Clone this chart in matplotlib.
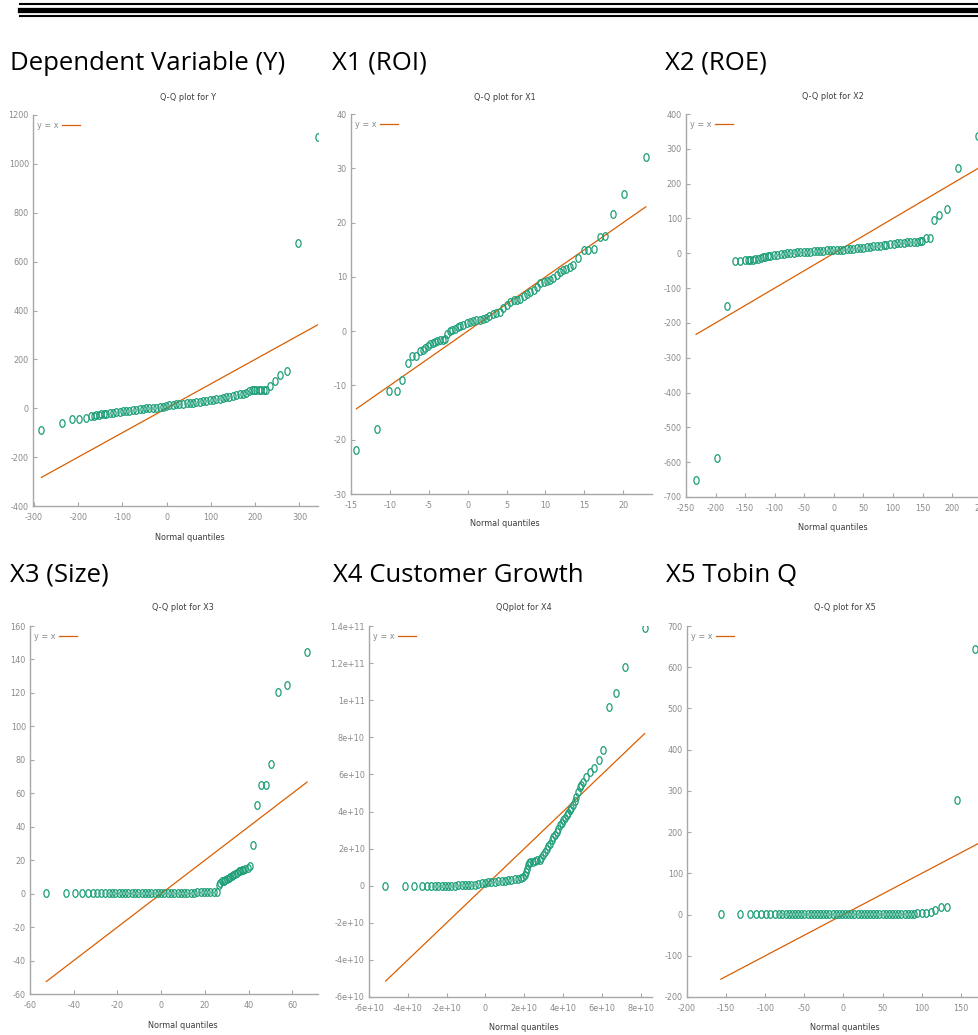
import numpy as np
import matplotlib
matplotlib.use("Agg")
import matplotlib.pyplot as plt
from matplotlib import font_manager as fm
from matplotlib.path import Path
from matplotlib.lines import Line2D

W, H = 979, 1035
GREEN = "#1b9e77"
ORANGE = "#d95f02"
AXIS_GRAY = "#a8a8a8"
TICK_GRAY = "#8a8a8a"
TEXT_GRAY = "#3c3c3c"

plt.rcParams['font.family'] = ['DejaVu Sans']
plt.rcParams['axes.unicode_minus'] = False

HEADINGS = ["Dependent Variable (Y)", "X1 (ROI)", "X2 (ROE)",
            "X3 (Size)", "X4 Customer Growth", "X5 Tobin Q"]
PLOT_TITLES = ["Q-Q plot for Y", "Q-Q plot for X1", "Q-Q plot for X2",
               "Q-Q plot for X3", "QQplot for X4", "Q-Q plot for X5"]

# (normal quantile, sorted value)
Y_PTS = [(-283, -90), (-237, -59), (-213, -45), (-197, -42), (-183, -38), (-170, -33),
         (-164, -31), (-159, -29), (-153, -27), (-148, -25), (-142, -23), (-136, -22),
         (-129, -20), (-121, -18), (-114, -16), (-106, -15), (-99, -13), (-91, -12),
         (-84, -10), (-76, -8), (-69, -6), (-61, -5), (-54, -3), (-46, -1), (-39, 0),
         (-31, 1), (-24, 3), (-16, 5), (-9, 7), (-1, 9), (6, 12), (14, 14), (21, 16),
         (29, 18), (37, 19), (45, 20), (52, 22), (60, 23), (67, 25), (75, 26), (82, 28),
         (90, 30), (97, 32), (105, 34), (112, 36), (120, 38), (127, 41), (135, 44),
         (142, 47), (150, 50), (157, 53), (165, 57), (172, 60), (180, 64), (186, 70),
         (192, 74), (197, 74), (203, 74), (208, 75), (214, 74), (219, 75), (224, 76),
         (233, 90), (244, 112), (257, 135), (273, 151), (297, 678), (342, 1110)]

X1_PTS = [(-14.3, -21.9), (-11.6, -18.1), (-10.1, -11.0), (-9.1, -11.0), (-8.4, -9.0),
          (-7.7, -5.9), (-7.1, -4.6), (-6.6, -4.6), (-6.1, -3.6), (-5.8, -3.4), (-5.5, -3.1),
          (-5.1, -2.7), (-4.8, -2.3), (-4.5, -2.2), (-4.2, -2.0), (-3.9, -1.9), (-3.6, -1.7),
          (-3.2, -1.6), (-2.9, -1.4), (-2.6, -0.6), (-2.3, 0.1), (-2.0, 0.2), (-1.6, 0.4),
          (-1.3, 0.7), (-1.0, 1.0), (-0.6, 1.2), (-0.1, 1.5), (0.3, 1.7), (0.7, 1.9),
          (1.1, 2.0), (1.6, 2.1), (2.0, 2.3), (2.4, 2.5), (2.8, 2.8), (3.3, 3.2), (3.7, 3.3),
          (4.2, 3.5), (4.6, 4.2), (5.0, 4.8), (5.4, 5.3), (5.9, 5.7), (6.3, 5.8), (6.7, 6.0),
          (7.2, 6.4), (7.6, 6.9), (8.0, 7.2), (8.5, 7.5), (8.9, 8.2), (9.3, 8.8), (9.8, 9.0),
          (10.2, 9.2), (10.6, 9.4), (11.0, 9.7), (11.5, 10.3), (11.9, 10.9), (12.3, 11.2),
          (12.7, 11.5), (13.2, 11.8), (13.6, 12.2), (14.2, 13.4), (14.9, 14.9), (15.5, 14.9),
          (16.2, 15.2), (17.0, 17.4), (17.7, 17.6), (18.7, 21.5), (20.1, 25.3), (22.9, 32.0)]

X2_PTS = [(-233, -652), (-198, -588), (-180, -151), (-167, -21), (-158, -21), (-150, -20),
          (-145, -19), (-141, -19), (-137, -18), (-133, -17), (-129, -16), (-124, -14),
          (-120, -12), (-116, -10), (-112, -9), (-108, -7), (-102, -6), (-96, -4), (-90, -3),
          (-85, -1), (-79, 0), (-74, 1), (-68, 2), (-62, 3), (-57, 4), (-51, 4), (-45, 5),
          (-40, 5), (-34, 6), (-29, 6), (-23, 7), (-18, 7), (-12, 8), (-6, 8), (-1, 9),
          (5, 9), (11, 10), (16, 10), (22, 11), (28, 12), (33, 13), (39, 14), (45, 15),
          (50, 16), (56, 17), (61, 18), (67, 20), (73, 21), (78, 22), (84, 23), (89, 25),
          (95, 26), (101, 28), (106, 29), (112, 30), (118, 30), (123, 31), (129, 32),
          (135, 33), (140, 33), (145, 35), (149, 36), (156, 45), (162, 45), (169, 95),
          (178, 109), (192, 128), (210, 245), (244, 337)]

X3_PTS = [(-52.5, 0.1), (-43.7, 0.1), (-39.2, 0.1), (-36.1, 0.1), (-33.5, 0.1), (-31.3, 0.2),
          (-29.3, 0.2), (-27.5, 0.2), (-25.5, 0.2), (-24.0, 0.2), (-22.5, 0.2), (-21.0, 0.2),
          (-19.5, 0.3), (-18.0, 0.3), (-16.5, 0.3), (-15.0, 0.3), (-13.5, 0.3), (-12.0, 0.3),
          (-10.5, 0.3), (-9.0, 0.4), (-7.5, 0.4), (-6.0, 0.4), (-4.5, 0.4), (-3.0, 0.4),
          (-1.5, 0.4), (0.0, 0.5), (1.5, 0.5), (3.0, 0.5), (4.5, 0.5), (6.0, 0.5), (7.5, 0.5),
          (9.0, 0.6), (10.5, 0.6), (12.0, 0.6), (13.5, 0.6), (15.0, 0.6), (16.5, 0.7),
          (18.0, 0.7), (19.5, 0.7), (21.0, 0.7), (22.5, 0.8), (24.0, 0.8), (25.5, 0.9),
          (26.2, 5.3), (27.0, 6.5), (27.8, 7.3), (28.5, 7.8), (29.3, 8.3), (30.0, 8.8),
          (30.8, 9.3), (31.5, 9.8), (32.3, 10.3), (33.0, 11.0), (33.8, 11.9), (34.6, 12.6),
          (35.4, 13.3), (36.2, 13.6), (36.9, 13.9), (37.6, 14.3), (38.4, 14.7), (39.5, 15.3),
          (40.7, 16.3), (42.2, 28.8), (43.7, 52.7), (45.7, 65.0), (47.8, 65.0), (50.3, 77.4),
          (53.3, 120.6), (57.7, 124.6), (66.7, 144.6)]

X4_PTS = [(-5.16e10, 0.0), (-4.16e10, 0.0), (-3.66e10, 0.0), (-3.28e10, 0.0), (-3.03e10, 0.0),
          (-2.83e10, 0.0), (-2.60e10, 0.0), (-2.42e10, 0.0), (-2.25e10, 0.0), (-2.09e10, 0.0),
          (-1.92e10, 0.0), (-1.75e10, 0.01e10), (-1.58e10, 0.01e10), (-1.40e10, 0.02e10),
          (-1.23e10, 0.02e10), (-1.06e10, 0.03e10), (-0.89e10, 0.04e10), (-0.72e10, 0.05e10),
          (-0.55e10, 0.06e10), (-0.37e10, 0.08e10), (-0.20e10, 0.12e10), (-0.03e10, 0.15e10),
          (0.14e10, 0.18e10), (0.31e10, 0.20e10), (0.48e10, 0.22e10), (0.66e10, 0.24e10),
          (0.83e10, 0.26e10), (1.00e10, 0.28e10), (1.17e10, 0.30e10), (1.34e10, 0.31e10),
          (1.51e10, 0.34e10), (1.69e10, 0.37e10), (1.82e10, 0.42e10), (1.94e10, 0.47e10),
          (2.02e10, 0.60e10), (2.08e10, 0.74e10), (2.14e10, 0.90e10), (2.20e10, 1.10e10),
          (2.26e10, 1.20e10), (2.32e10, 1.28e10), (2.44e10, 1.30e10), (2.55e10, 1.32e10),
          (2.68e10, 1.37e10), (2.80e10, 1.41e10), (2.88e10, 1.52e10), (2.97e10, 1.65e10),
          (3.06e10, 1.82e10), (3.15e10, 2.00e10), (3.24e10, 2.13e10), (3.32e10, 2.27e10),
          (3.41e10, 2.45e10), (3.49e10, 2.63e10), (3.58e10, 2.76e10), (3.66e10, 2.90e10),
          (3.75e10, 3.08e10), (3.83e10, 3.26e10), (3.92e10, 3.40e10), (4.00e10, 3.53e10),
          (4.09e10, 3.67e10), (4.18e10, 3.80e10), (4.26e10, 3.94e10), (4.35e10, 4.07e10),
          (4.43e10, 4.20e10), (4.52e10, 4.34e10), (4.60e10, 4.55e10), (4.69e10, 4.79e10),
          (4.78e10, 5.05e10), (4.86e10, 5.33e10), (4.94e10, 5.45e10), (5.03e10, 5.60e10),
          (5.20e10, 5.87e10), (5.38e10, 6.14e10), (5.58e10, 6.37e10), (5.86e10, 6.80e10),
          (6.08e10, 7.30e10), (6.35e10, 9.64e10), (6.70e10, 10.4e10), (7.20e10, 11.8e10),
          (8.20e10, 13.9e10)]

X5_PTS = [(-156.7, 0.3), (-132.7, 0.4), (-120.0, 0.4), (-112.4, 0.4), (-105.2, 0.5),
          (-98.9, 0.5), (-93.4, 0.5), (-87.9, 0.5), (-82.2, 0.6), (-78, 0.6), (-74, 0.6),
          (-70, 0.6), (-66, 0.7), (-62, 0.7), (-58, 0.7), (-54, 0.7), (-50, 0.8), (-46, 0.8),
          (-42, 0.8), (-38, 0.8), (-34, 0.9), (-30, 0.9), (-26, 0.9), (-22, 0.9), (-18, 1.0),
          (-14, 1.0), (-10, 1.0), (-6, 1.0), (-2, 1.1), (2, 1.1), (6, 1.1), (10, 1.2),
          (14, 1.2), (18, 1.2), (22, 1.3), (26, 1.3), (30, 1.3), (34, 1.4), (38, 1.4),
          (42, 1.5), (46, 1.5), (50, 1.6), (54, 1.6), (58, 1.7), (62, 1.7), (66, 1.8),
          (70, 1.9), (74, 2.0), (78, 2.1), (82, 2.2), (86, 2.3), (90, 2.5), (94.5, 2.7),
          (100.0, 3.0), (105.5, 4.0), (111.3, 6.5), (117.2, 11.3), (124.0, 18.6),
          (132.8, 19.4), (145.4, 277.6), (168.5, 644.0)]

# ends of the y = x reference line
Y_LINE = [-283, 345]
X1_LINE = [-14.3, 22.9]
X2_LINE = [-233, 285]
X3_LINE = [-52.5, 66.7]
X4_LINE = [-5.14e10, 8.2e10]
X5_LINE = [-156.7, 200]

Y_XTICKS = [-300, -200, -100, 0, 100, 200, 300]
Y_YTICKS = [-400, -200, 0, 200, 400, 600, 800, 1000, 1200]
X1_XTICKS = [-15, -10, -5, 0, 5, 10, 15, 20]
X1_YTICKS = [-30, -20, -10, 0, 10, 20, 30, 40]
X2_XTICKS = [-250, -200, -150, -100, -50, 0, 50, 100, 150, 200, 250]
X2_YTICKS = [-700, -600, -500, -400, -300, -200, -100, 0, 100, 200, 300, 400]
X3_XTICKS = [-60, -40, -20, 0, 20, 40, 60]
X3_YTICKS = [-60, -40, -20, 0, 20, 40, 60, 80, 100, 120, 140, 160]
X4_XTICKS = [-6e10, -4e10, -2e10, 0, 2e10, 4e10, 6e10, 8e10]
X4_XLABELS = ["-6e+10", "-4e+10", "-2e+10", "0", "2e+10", "4e+10", "6e+10", "8e+10"]
X4_YTICKS = [-6e10, -4e10, -2e10, 0, 2e10, 4e10, 6e10, 8e10, 1e11, 1.2e11, 1.4e11]
X4_YLABELS = ["-6e+10", "-4e+10", "-2e+10", "0", "2e+10", "4e+10", "6e+10", "8e+10",
              "1e+11", "1.2e+11", "1.4e+11"]
X5_XTICKS = [-200, -150, -100, -50, 0, 50, 100, 150, 200]
X5_YTICKS = [-200, -100, 0, 100, 200, 300, 400, 500, 600, 700]

panels = [
    dict(pts=Y_PTS, line=Y_LINE, xt=Y_XTICKS, yt=Y_YTICKS, xlim=(-302, 342), ylim=(-400, 1200)),
    dict(pts=X1_PTS, line=X1_LINE, xt=X1_XTICKS, yt=X1_YTICKS, xlim=(-15, 23.7), ylim=(-30, 40)),
    dict(pts=X2_PTS, line=X2_LINE, xt=X2_XTICKS, yt=X2_YTICKS, xlim=(-250, 281), ylim=(-700, 400)),
    dict(pts=X3_PTS, line=X3_LINE, xt=X3_XTICKS, yt=X3_YTICKS, xlim=(-60, 71.7), ylim=(-60, 160)),
    dict(pts=X4_PTS, line=X4_LINE, xt=X4_XTICKS, yt=X4_YTICKS, xlim=(-6e10, 8.58e10),
         ylim=(-6e10, 1.4e11), xl=X4_XLABELS, yl=X4_YLABELS),
    dict(pts=X5_PTS, line=X5_LINE, xt=X5_XTICKS, yt=X5_YTICKS, xlim=(-200, 194.6), ylim=(-200, 700)),
]

# pixel boxes of the plot areas: left, right, top, bottom
boxes = [(33, 318, 115, 506), (351, 652, 114, 494), (686, 1000, 114, 497),
         (30, 318, 626, 994), (369, 652, 626, 997), (687, 1000, 626, 997)]
heading_pos = [(10, 70), (332, 70), (665, 70), (10, 582), (333, 582), (666, 582)]
title_pos = [(188, 97), (505, 97), (833, 96), (183, 608), (524, 608), (845, 608)]
xlabel_pos = [(190, 538), (505, 524), (833, 527), (183, 1025), (524, 1027), (845, 1027)]


def narrow_font():
    # gnuplot's labels look condensed, so look for a narrow sans face
    faces = fm.fontManager.ttflist
    for f in faces:
        if f.name == "Liberation Sans Narrow" and f.style == "normal" and f.weight in (400, "normal"):
            return f.fname
    for f in faces:
        if (f.stretch in ("condensed", "semi-condensed") and f.style == "normal"
                and f.weight in (400, "normal") and "Mono" not in f.name):
            return f.fname
    return None


nf = narrow_font()
small = fm.FontProperties(fname=nf, size=6.5) if nf else fm.FontProperties(family="Liberation Sans", size=6.0)

# gnuplot style open circles, a little taller than wide
circ = Path.unit_circle()
oval = Path(circ.vertices * np.array([0.68, 1.0]), circ.codes)

fig = plt.figure(figsize=(W / 100, H / 100), dpi=100)

# the triple rule at the top of the page
for y, lw in [(3.5, 1.5), (10, 3.8), (16, 1.5)]:
    fig.add_artist(Line2D([20 / W, 1], [1 - y / H] * 2, lw=lw, color="black"))

for i, p in enumerate(panels):
    l, r, t, b = boxes[i]
    ax = fig.add_axes([l / W, 1 - b / H, (r - l) / W, (b - t) / H])
    xs, ys = zip(*p["pts"])
    ax.plot(p["line"], p["line"], color=ORANGE, lw=0.9, label="y = x")
    ax.plot(xs, ys, ls="none", marker=oval, ms=5.5, mfc="none", mec=GREEN, mew=0.9)
    ax.set_xlim(*p["xlim"])
    ax.set_ylim(*p["ylim"])
    ax.set_xticks(p["xt"])
    ax.set_yticks(p["yt"])
    if "xl" in p:
        ax.set_xticklabels(p["xl"])
        ax.set_yticklabels(p["yl"])
    for s in ["top", "right"]:
        ax.spines[s].set_visible(False)
    for s in ["left", "bottom"]:
        ax.spines[s].set_color(AXIS_GRAY)
        ax.spines[s].set_linewidth(1.0)
    ax.tick_params(direction="in", length=3, width=0.8, color=AXIS_GRAY, labelcolor=TICK_GRAY)
    ax.tick_params(axis="x", pad=5)
    ax.tick_params(axis="y", pad=3)
    for lbl in ax.get_xticklabels() + ax.get_yticklabels():
        lbl.set_fontproperties(small)
    ax.set_facecolor("none")
    wpx, hpx = r - l, b - t
    ax.legend(loc="upper left", bbox_to_anchor=(4 / wpx, 1 - 6 / hpx), frameon=False,
              markerfirst=False, handlelength=2.0, handletextpad=0.4, borderpad=0,
              borderaxespad=0, prop=small, labelcolor=TICK_GRAY)

    hx, hy = heading_pos[i]
    fig.text(hx / W, 1 - hy / H, HEADINGS[i], fontsize=18.5, va="baseline",
             family=["Open Sans", "DejaVu Sans"])
    tx, ty = title_pos[i]
    fig.text(tx / W, 1 - ty / H, PLOT_TITLES[i], fontproperties=small, color=TEXT_GRAY,
             ha="center", va="center")
    lx, ly = xlabel_pos[i]
    fig.text(lx / W, 1 - ly / H, "Normal quantiles", fontproperties=small, color=TEXT_GRAY,
             ha="center", va="center")

fig.savefig("out.png", dpi=100)
